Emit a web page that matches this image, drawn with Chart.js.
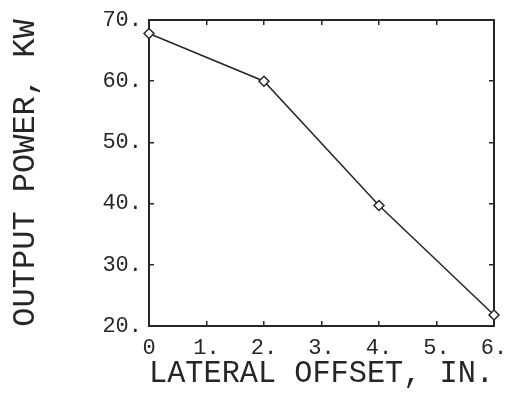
<!DOCTYPE html>
<html>
<head>
<meta charset="utf-8">
<script src="https://cdn.jsdelivr.net/npm/chart.js@4.4.0/dist/chart.umd.min.js"></script>
<style>
  html, body { margin: 0; padding: 0; background: #fff; }
  #wrap { width: 506px; height: 393px; }
</style>
</head>
<body>
<div id="wrap"><canvas id="powerChart" width="506" height="393"></canvas></div>
<script>
// values
const offsets = [0, 2, 4, 6];
const power = [67.8, 60, 39.7, 21.8];
const xTicks = [0, 1, 2, 3, 4, 5, 6];
const yTicks = [20, 30, 40, 50, 60, 70];

const ink = "#262626";
const mono = "'Liberation Mono', 'DejaVu Sans Mono', monospace";

const points = offsets.map((x, i) => ({ x: x, y: power[i] }));

function fixTicks(list) {
    return function(scale) {
        scale.ticks = list.map(v => ({ value: v }));
    };
}

// keep tick labels from pushing the plot box inwards
function noPad(scale) {
    scale.paddingLeft = 0;
    scale.paddingRight = 0;
    scale.paddingTop = 0;
    scale.paddingBottom = 0;
}

const ctx = document.getElementById("powerChart").getContext("2d");

new Chart(ctx, {
    type: "line",
    data: {
        datasets: [{
            data: points,
            borderColor: ink,
            borderWidth: 1.5,
            pointStyle: "rectRot",
            pointRadius: 5,
            pointBorderWidth: 1.5,
            pointBorderColor: ink,
            pointBackgroundColor: "#fff",
            tension: 0,
            clip: false
        }]
    },
    options: {
        responsive: false,
        animation: false,
        layout: { padding: { left: 0, top: 20, right: 12, bottom: 0 } },
        plugins: { legend: { display: false }, tooltip: { enabled: false } },
        scales: {
            x: {
                type: "linear",
                position: "bottom",
                min: 0, max: 6,
                afterBuildTicks: fixTicks(xTicks),
                afterFit: s => { s.height = 67; noPad(s); },
                grid: { drawOnChartArea: false, tickLength: -5, color: ink, lineWidth: 1.5 },
                border: { color: ink, width: 2 },
                ticks: {
                    color: ink, padding: 14, maxRotation: 0,
                    font: { family: mono, size: 22 },
                    callback: v => v === 0 ? "0" : v + "."
                },
                title: {
                    display: true, text: "LATERAL OFFSET, IN.", color: ink,
                    font: { family: mono, size: 32 }, padding: { top: -9, bottom: 0 }
                }
            },
            y: {
                type: "linear",
                position: "left",
                min: 20, max: 70,
                afterBuildTicks: fixTicks(yTicks),
                afterFit: s => { s.width = 149; noPad(s); },
                grid: { drawOnChartArea: false, tickLength: -5, color: ink, lineWidth: 1.5 },
                border: { color: ink, width: 2 },
                ticks: {
                    color: ink, padding: 12,
                    font: { family: mono, size: 22 },
                    callback: v => v + "."
                },
                title: {
                    display: true, text: "OUTPUT POWER, KW", color: ink,
                    font: { family: mono, size: 32 }, padding: { top: 6, bottom: 0 }
                }
            },
            x2: {
                type: "linear",
                position: "top",
                min: 0, max: 6,
                afterBuildTicks: fixTicks(xTicks),
                afterFit: s => { s.height = 0; noPad(s); },
                grid: { drawOnChartArea: false, tickLength: -5, color: ink, lineWidth: 1.5 },
                border: { color: ink, width: 2 },
                ticks: { display: false }
            },
            y2: {
                type: "linear",
                position: "right",
                min: 20, max: 70,
                afterBuildTicks: fixTicks(yTicks),
                afterFit: s => { s.width = 0; noPad(s); },
                grid: { drawOnChartArea: false, tickLength: -5, color: ink, lineWidth: 1.5 },
                border: { color: ink, width: 2 },
                ticks: { display: false }
            }
        }
    }
});
</script>
</body>
</html>
